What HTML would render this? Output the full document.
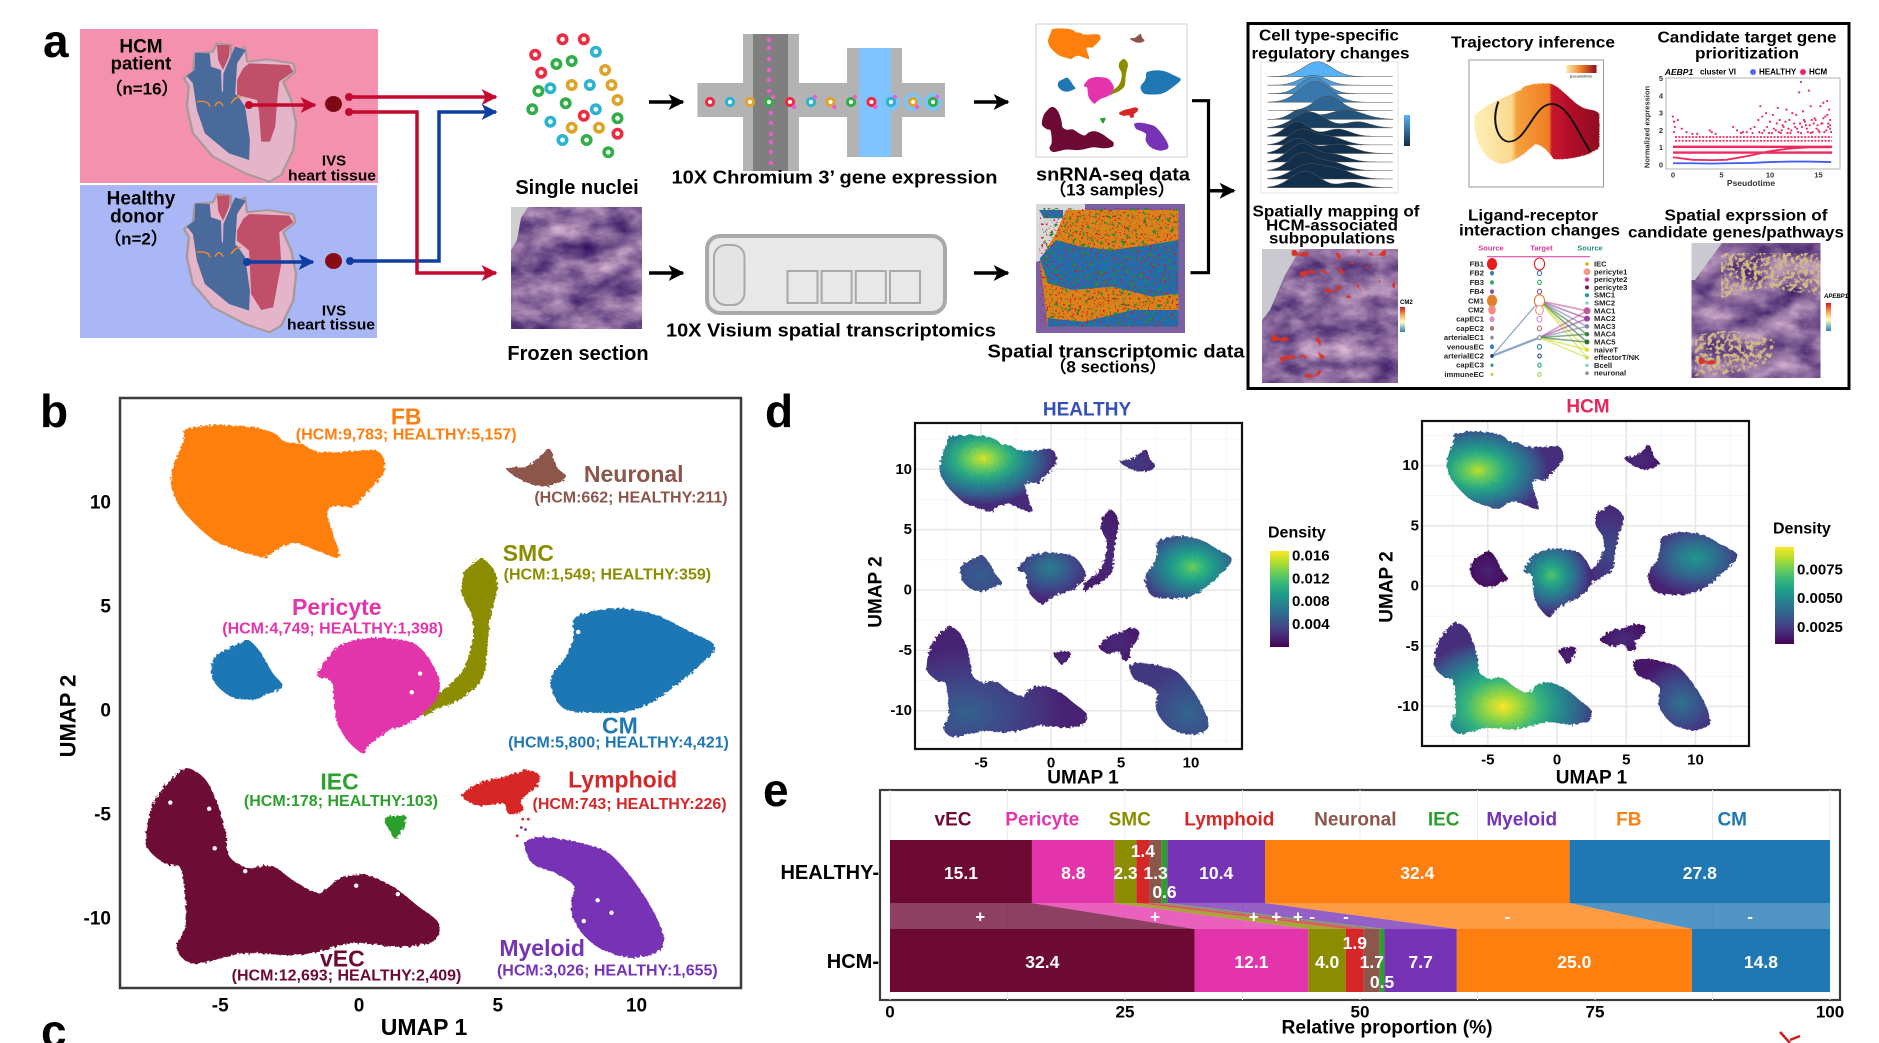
<!DOCTYPE html>
<html lang="en">
<head>
<meta charset="utf-8">
<title>HCM single-nucleus and spatial transcriptomics figure</title>
<style>
html,body{margin:0;padding:0;background:#fff;}
body{width:1879px;height:1043px;overflow:hidden;}
svg{display:block;font-family:"Liberation Sans",sans-serif;}
text{font-weight:bold;dominant-baseline:central;}
</style>
</head>
<body>
<svg id="fig" xmlns="http://www.w3.org/2000/svg" width="1879" height="1043" viewBox="0 0 1879 1043">
<defs>
  <marker id="mBlack" viewBox="0 0 10 10" refX="9" refY="5" markerUnits="userSpaceOnUse" markerWidth="16" markerHeight="17" orient="auto"><path d="M0 0L10 5L0 10L2.5 5z" fill="#000"/></marker>
  <marker id="mRed" viewBox="0 0 10 10" refX="9" refY="5" markerUnits="userSpaceOnUse" markerWidth="18" markerHeight="16" orient="auto"><path d="M0 0L10 5L0 10L2.5 5z" fill="#c4092f"/></marker>
  <marker id="mBlue" viewBox="0 0 10 10" refX="9" refY="5" markerUnits="userSpaceOnUse" markerWidth="18" markerHeight="16" orient="auto"><path d="M0 0L10 5L0 10L2.5 5z" fill="#0f3ea3"/></marker>
  <filter id="rough" x="-20%" y="-20%" width="140%" height="140%"><feTurbulence type="fractalNoise" baseFrequency=".35" numOctaves="2" seed="4"/><feDisplacementMap in="SourceGraphic" scale="5"/></filter>
  <filter id="tissue" x="0" y="0" width="100%" height="100%" color-interpolation-filters="sRGB"><feTurbulence type="fractalNoise" baseFrequency=".03 .05" numOctaves="5" seed="8"/><feColorMatrix values=".8 0 0 0 .13  .78 0 0 0 .01  .55 0 0 0 .33  0 0 0 0 1"/></filter>
  <filter id="speckRed" x="0" y="0" width="100%" height="100%" color-interpolation-filters="sRGB"><feTurbulence type="fractalNoise" baseFrequency=".17" numOctaves="2" seed="3"/><feColorMatrix values="0 0 0 0 .82  0 0 0 0 .1  0 0 0 0 .15  11 0 0 0 -6.8"/></filter>
  <filter id="speckGreen" x="0" y="0" width="100%" height="100%" color-interpolation-filters="sRGB"><feTurbulence type="fractalNoise" baseFrequency=".09" numOctaves="2" seed="12"/><feColorMatrix values="0 0 0 0 .1  0 0 0 0 .58  0 0 0 0 .2  11 0 0 0 -6.9"/></filter>
  <filter id="speckHot" x="0" y="0" width="100%" height="100%" color-interpolation-filters="sRGB"><feTurbulence type="fractalNoise" baseFrequency=".11" numOctaves="1" seed="5"/><feColorMatrix values="0 0 0 0 .85  0 0 0 0 .2  0 0 0 0 .14  14 0 0 0 -9"/></filter>
  <filter id="speckYellow" x="0" y="0" width="100%" height="100%" color-interpolation-filters="sRGB"><feTurbulence type="fractalNoise" baseFrequency=".24" numOctaves="2" seed="9"/><feColorMatrix values="0 0 0 0 .82  0 0 0 0 .72  0 0 0 0 .52  7 0 0 0 -3.2"/></filter>
  <clipPath id="geneTop"><path d="M1721 253H1819L1820 295L1762 288L1721 298Z"/></clipPath>
  <clipPath id="geneBottom"><path d="M1695 335L1730 330L1775 340L1770 362L1730 374L1695 376Z"/></clipPath>
  <linearGradient id="trajGrad" x1="0" x2="1" y1="0" y2="0">
    <stop offset="0" stop-color="#fdf0b8"/><stop offset=".3" stop-color="#fbd98f"/><stop offset=".34" stop-color="#f5a03c"/><stop offset=".6" stop-color="#ee7d25"/><stop offset=".62" stop-color="#c9142c"/><stop offset="1" stop-color="#8e0a22"/>
  </linearGradient>
  <linearGradient id="trajLegend" x1="0" x2="1" y1="0" y2="0"><stop offset="0" stop-color="#fdf0b8"/><stop offset=".5" stop-color="#ee7d25"/><stop offset="1" stop-color="#8e0a22"/></linearGradient>
  <linearGradient id="nesLegend" x1="0" x2="0" y1="0" y2="1"><stop offset="0" stop-color="#56b1f7"/><stop offset="1" stop-color="#132b43"/></linearGradient>
  <linearGradient id="heatLegend" x1="0" x2="0" y1="0" y2="1"><stop offset="0" stop-color="#d7191c"/><stop offset=".35" stop-color="#fdae61"/><stop offset=".6" stop-color="#ffffbf"/><stop offset="1" stop-color="#2b83ba"/></linearGradient>
  <g id="heartBase">
    <path d="M458 235L480 215L485 160L530 155L540 130L575 135L575 165L610 140L615 185L665 178L730 190L735 215L705 245L725 300L737 370L730 450L700 525L670 545L610 520L530 470L480 400L465 320L470 260Z" fill="#e4b4c8" stroke="#a89a9a" stroke-width="6" stroke-linejoin="round"/>
    <path d="M540 135L572 135L570 170L555 210L543 180Z" fill="#c0506a"/>
    <path d="M465 228L484 210L486 158L522 160L525 200L550 210L552 275L590 285L610 320L622 420L620 480L570 460L510 400L490 330L480 250Z" fill="#4a6a9c"/>
    <path d="M556 220L585 140L612 150L590 190L585 290L555 280Z" fill="#4a6a9c"/>
    <path d="M490 305Q520 300 522 320M535 318Q545 295 555 318M575 310Q585 290 600 290M605 262Q625 255 640 262M668 262Q680 255 690 250" fill="none" stroke="#ef8a2a" stroke-width="4"/>
  </g>
</defs>
<rect width="1879" height="1043" fill="#fff"/>

<!-- Panel letters -->
<text x="43" y="41" font-size="46" fill="#000">a</text>
<text x="40" y="411" font-size="46" fill="#000">b</text>
<text x="41" y="1031" font-size="46" fill="#000">c</text>
<text x="765" y="411" font-size="46" fill="#000">d</text>
<text x="763" y="790" font-size="46" fill="#000">e</text>

<!-- Panel a: donors -->
<g>
  <rect x="80" y="29" width="298" height="154" fill="#f491ae"/>
  <rect x="80" y="185" width="297" height="153" fill="#a9b7f7"/>
  <g transform="scale(.4018 .3333)">
    <use href="#heartBase"/>
    <path d="M605 205L620 190L720 195L730 215L695 245L690 300L685 380L672 425L650 425L645 340L640 300L590 285L590 240Z" fill="#c0506a"/>
  </g>
  <g transform="scale(.4018 .3333) translate(0 452)">
    <use href="#heartBase"/>
    <path d="M605 205L620 190L720 195L730 215L695 245L700 340L680 470L650 478L625 430L620 300L590 270L590 240Z" fill="#c0506a"/>
  </g>
  <text x="141" y="47" font-size="19" text-anchor="middle">HCM</text>
  <text x="141" y="63" font-size="18.5" text-anchor="middle">patient</text>
  <text x="142" y="89" font-size="17" text-anchor="middle">（n=16）</text>
  <text x="141" y="199" font-size="19" text-anchor="middle">Healthy</text>
  <text x="137" y="217" font-size="19" text-anchor="middle">donor</text>
  <text x="136" y="239" font-size="17" text-anchor="middle">（n=2）</text>
  <text x="334" y="161" font-size="15" text-anchor="middle">IVS</text>
  <text x="332" y="176" font-size="15" text-anchor="middle" textLength="88" lengthAdjust="spacingAndGlyphs">heart tissue</text>
  <text x="334" y="311" font-size="15" text-anchor="middle">IVS</text>
  <text x="331" y="325" font-size="15" text-anchor="middle" textLength="88" lengthAdjust="spacingAndGlyphs">heart tissue</text>

  <ellipse cx="333.5" cy="104" rx="8.5" ry="8" fill="#7d0a14"/>
  <ellipse cx="333.5" cy="261" rx="8.5" ry="8" fill="#8a0b18"/>
  <circle cx="249" cy="105" r="4" fill="#c4092f"/><path d="M249 105H315" stroke="#c4092f" stroke-width="3.5" marker-end="url(#mRed)"/>
  <circle cx="247" cy="262" r="4" fill="#0f3ea3"/><path d="M247 262H313" stroke="#0f3ea3" stroke-width="3.5" marker-end="url(#mBlue)"/>
  <circle cx="349" cy="97" r="4" fill="#c4092f"/><circle cx="349" cy="112" r="4" fill="#c4092f"/><circle cx="350" cy="261" r="4" fill="#0f3ea3"/>
  <path d="M350 261H439V112H496" fill="none" stroke="#0f3ea3" stroke-width="3.5" marker-end="url(#mBlue)"/>
  <path d="M349 97H496" fill="none" stroke="#c4092f" stroke-width="3.5" marker-end="url(#mRed)"/>
  <path d="M349 112H417V273H496" fill="none" stroke="#c4092f" stroke-width="3.5" marker-end="url(#mRed)"/>

  <g id="nuclei"></g>
  <text x="577" y="188" font-size="20" text-anchor="middle">Single nuclei</text>

  <g>
    <rect x="511" y="207" width="131" height="122" filter="url(#tissue)"/>
    <path d="M511 207H528L521 218L517 240L511 250Z" fill="#cfcfcf"/>
  </g>
  <text x="578" y="354" font-size="20" text-anchor="middle">Frozen section</text>

  <path d="M649 102H683" stroke="#000" stroke-width="3.5" marker-end="url(#mBlack)"/>
  <path d="M974 102H1008" stroke="#000" stroke-width="3.5" marker-end="url(#mBlack)"/>
  <path d="M649 273H683" stroke="#000" stroke-width="3.5" marker-end="url(#mBlack)"/>
  <path d="M974 273H1008" stroke="#000" stroke-width="3.5" marker-end="url(#mBlack)"/>

  <g>
    <rect x="697.5" y="83" width="247.5" height="34" fill="#b3b3b3"/>
    <rect x="743" y="34" width="56" height="137" fill="#b3b3b3"/>
    <rect x="753" y="34" width="35" height="137" fill="#7f7f7f"/>
    <rect x="847" y="48" width="55" height="109" fill="#b3b3b3"/>
    <rect x="859" y="48" width="32" height="109" fill="#80c4ff"/>
    <g id="chipCells"></g>
  </g>
  <text x="834.5" y="177" font-size="18.5" text-anchor="middle" textLength="326" lengthAdjust="spacingAndGlyphs">10X Chromium 3’ gene expression</text>

  <g>
    <rect x="707" y="236" width="238" height="77" rx="13" fill="#e8e8e8" stroke="#a9a9a9" stroke-width="4"/>
    <rect x="714" y="245" width="30.5" height="60" rx="12" fill="#e4e4e4" stroke="#a9a9a9" stroke-width="2"/>
    <rect x="787.5" y="271" width="30" height="32" fill="none" stroke="#a9a9a9" stroke-width="2"/>
    <rect x="821.6" y="271" width="30" height="32" fill="none" stroke="#a9a9a9" stroke-width="2"/>
    <rect x="855.8" y="271" width="30" height="32" fill="none" stroke="#a9a9a9" stroke-width="2"/>
    <rect x="890" y="271" width="30" height="32" fill="none" stroke="#a9a9a9" stroke-width="2"/>
  </g>
  <text x="831" y="330" font-size="18.5" text-anchor="middle" textLength="330" lengthAdjust="spacingAndGlyphs">10X Visium spatial transcriptomics</text>

  <rect x="1036" y="24" width="151" height="133" fill="#fff" stroke="#cfcfcf" stroke-width="1"/>
  <g id="miniUmap"></g>
  <text x="1113" y="174" font-size="18.5" text-anchor="middle" textLength="154" lengthAdjust="spacingAndGlyphs">snRNA-seq data</text>
  <text x="1112" y="190" font-size="17" text-anchor="middle">（13 samples）</text>

  <g>
    <rect x="1036" y="204" width="149" height="129" fill="#7d5fa3"/>
    <path d="M1036 204H1085V216L1066 240L1048 258L1036 262Z" fill="#d9d9dc"/>
    <g transform="translate(630 0) scale(.4018 .3333)">
      <path d="M1085 630H1365V980H1040L1020 780L1060 700Z" fill="#d9841a"/>
      <path d="M1020 775L1060 720L1120 740L1200 750L1290 735L1365 720V880L1300 890L1200 860L1100 870L1040 850ZM1040 955L1130 965L1250 930L1365 930V980H1040Z" fill="#1f6fb0"/>
      <path d="M1018 630H1078V655H1030Z" fill="#1f6fb0"/>
      <rect x="1030" y="625" width="335" height="355" filter="url(#speckGreen)"/>
      <rect x="1020" y="625" width="345" height="355" filter="url(#speckRed)"/>
    </g>
  </g>
  <text x="1116" y="351" font-size="18.5" text-anchor="middle" textLength="257" lengthAdjust="spacingAndGlyphs">Spatial transcriptomic data</text>
  <text x="1108" y="367" font-size="17" text-anchor="middle">（8 sections）</text>

  <path d="M1192 100.7H1208.5V272.7H1190.5" fill="none" stroke="#000" stroke-width="3.2"/>
  <path d="M1208 190.7H1234" stroke="#000" stroke-width="3.5" marker-end="url(#mBlack)"/>
</g>

<!-- Analyses box -->
<g>
  <rect x="1248" y="23.5" width="601" height="365" fill="#fff" stroke="#000" stroke-width="3"/>
  <text x="1329" y="36" font-size="15.5" text-anchor="middle" textLength="140" lengthAdjust="spacingAndGlyphs">Cell type-specific</text>
  <text x="1330.5" y="54" font-size="15.5" text-anchor="middle" textLength="158" lengthAdjust="spacingAndGlyphs">regulatory changes</text>
  <text x="1533" y="43" font-size="15.5" text-anchor="middle" textLength="164" lengthAdjust="spacingAndGlyphs">Trajectory inference</text>
  <text x="1747" y="38" font-size="15.5" text-anchor="middle" textLength="179" lengthAdjust="spacingAndGlyphs">Candidate target gene</text>
  <text x="1747" y="54" font-size="15.5" text-anchor="middle" textLength="104" lengthAdjust="spacingAndGlyphs">prioritization</text>
  <text x="1336" y="212" font-size="15.5" text-anchor="middle" textLength="167" lengthAdjust="spacingAndGlyphs">Spatially mapping of</text>
  <text x="1332" y="226" font-size="15.5" text-anchor="middle" textLength="132" lengthAdjust="spacingAndGlyphs">HCM-associated</text>
  <text x="1332" y="239" font-size="15.5" text-anchor="middle" textLength="126" lengthAdjust="spacingAndGlyphs">subpopulations</text>
  <text x="1533" y="216" font-size="15.5" text-anchor="middle" textLength="130" lengthAdjust="spacingAndGlyphs">Ligand-receptor</text>
  <text x="1539.5" y="231" font-size="15.5" text-anchor="middle" textLength="161" lengthAdjust="spacingAndGlyphs">interaction changes</text>
  <text x="1746" y="216" font-size="15.5" text-anchor="middle" textLength="163" lengthAdjust="spacingAndGlyphs">Spatial exprssion of</text>
  <text x="1736" y="233" font-size="15.5" text-anchor="middle" textLength="216" lengthAdjust="spacingAndGlyphs">candidate genes/pathways</text>

  <rect x="1261" y="62" width="137" height="131" fill="#fff" stroke="#e3e3e3"/>
  <g id="ridges" transform="translate(1240 0) scale(.4075 .3333)"></g>
  <rect x="1404" y="115" width="6" height="31" fill="url(#nesLegend)"/>

  <rect x="1469" y="60" width="134.5" height="127" fill="#fff" stroke="#999"/>
  <g transform="translate(1240 0) scale(.4075 .3333)">
    <path d="M575 350C590 320 650 290 690 270C695 255 720 250 760 250C790 260 810 305 845 325C860 330 880 330 882 345V440C870 460 830 478 770 478C755 450 740 435 725 432C690 470 660 495 640 492C600 480 570 420 575 350Z" fill="url(#trajGrad)" filter="url(#rough)"/>
    <path d="M634 305C615 370 635 425 660 425C705 425 720 312 765 312C805 312 830 400 860 455" fill="none" stroke="#111" stroke-width="5"/>
  </g>
  <rect x="1566" y="65" width="30.5" height="8" fill="url(#trajLegend)"/>
  <text x="1581" y="76" font-size="4" text-anchor="middle" fill="#555">pseudotime</text>

  <text x="1679" y="72" font-size="8.5" font-style="italic" text-anchor="middle">AEBP1</text>
  <text x="1718" y="72" font-size="8" text-anchor="middle">cluster VI</text>
  <circle cx="1753" cy="72" r="3" fill="#5468f0"/>
  <text x="1759" y="72" font-size="8">HEALTHY</text>
  <circle cx="1803" cy="72" r="3" fill="#ee2a5f"/>
  <text x="1809" y="72" font-size="8">HCM</text>
  <g id="candidate"></g>

  <g>
    <rect x="1262" y="249" width="136" height="134" filter="url(#tissue)"/>
    <path d="M1262 249H1300L1285 275L1270 310L1262 320Z" fill="#c9c9cf"/>
    <svg x="1290" y="250" width="105" height="48"><rect width="105" height="48" filter="url(#speckHot)"/></svg>
    <svg x="1270" y="335" width="56" height="46"><rect width="56" height="46" filter="url(#speckHot)"/></svg>
  </g>
  <rect x="1400" y="307" width="5" height="25" fill="url(#heatLegend)"/>
  <text x="1400" y="303" font-size="6">CM2</text>

  <g id="network"></g>

  <g>
    <rect x="1691.5" y="243" width="129" height="135" filter="url(#tissue)"/>
    <path d="M1691.5 243H1722L1708 262L1695 280H1691.5Z" fill="#c9c9cf"/>
    <g clip-path="url(#geneTop)"><rect x="1705" y="250" width="116" height="52" filter="url(#speckYellow)"/></g>
    <g clip-path="url(#geneBottom)"><rect x="1693" y="328" width="84" height="50" filter="url(#speckYellow)"/></g>
    <svg x="1697" y="358" width="26" height="18"><rect width="26" height="18" filter="url(#speckHot)"/></svg>
  </g>
  <rect x="1826" y="303" width="5" height="28" fill="url(#heatLegend)"/>
  <text x="1824" y="297" font-size="6" font-style="italic">APEBP1</text>
</g>

<g id="panelB"></g>
<g id="panelD"></g>
<g id="panelE"></g>
<path d="M1780 1032L1790 1043M1790 1040L1800 1036" stroke="#d01c1c" stroke-width="2.5" fill="none"/>
</svg>

<script>
// ---------- Cluster outlines, in UMAP units ----------
const clusterNames=['FB','Neuronal','SMC','CM-satellite','Pericyte','CM','Lymphoid','IEC','Myeloid','vEC'];
const fbX=[-6.2,-5.24,-3.84,-3.05,-2.71,-2.09,-1.57,-.7,.52,.87,.87,.52,.09,-.26,-.87,-1.19,-1.05,-.75,-1.4,-2.27,-2.88,-3.4,-4.19,-5.15,-6.02,-6.54,-6.75,-6.54,-6.28];
const fbY=[13.5,13.7,13.6,13.3,12.9,12.8,12.44,12.4,12.5,12.1,11.5,10.9,10.3,9.84,9.9,9.6,8.8,7.44,7.7,8.1,7.9,7.44,7.7,8.2,9.2,10.1,11.1,12.2,13];
const neuronalX=[5.38,6.02,6.54,6.86,6.98,7.16,7.42,7.16,6.63,6.11,5.67];
const neuronalY=[11.64,11.7,12.2,12.54,12.1,11.6,11.3,11,10.84,11,11.3];
const smcX=[4.36,4.62,4.89,4.94,4.75,4.62,4.49,4.1,3.49,2.62,2.36,2.44,2.97,3.58,3.93,4.15,4.1,3.75,3.8,4.1];
const smcY=[7.3,7.1,6.6,5.8,4.8,3.6,1.8,1.1,.5,.04,-.2,.4,.9,1.6,2.4,3.6,4.6,5.6,6.6,7];
const cmSmallX=[-4.36,-3.98,-3.58,-3.14,-2.79,-3.23,-3.84,-4.54,-5.06,-5.29,-5.15];
const cmSmallY=[3.16,3.34,2.8,1.8,1.2,.9,.6,.7,1.2,1.8,2.6];
const pericyteX=[-.7,.17,1.05,1.92,2.44,2.88,2.7,2,1.05,.35,.09,-.44,-.79,-.96,-1.45,-1.13];
const pericyteY=[3.1,3.46,3.44,3.24,2.6,1.4,.5,-.4,-.9,-1.6,-1.96,-1.3,-.4,1.4,1.7,2.5];
const cmX=[7.85,9.25,10.65,11.87,12.74,12.57,11.52,10.47,9.42,7.5,6.95,7.07,7.5,7.77];
const cmY=[4.5,4.9,4.6,3.8,3.2,2.6,1.4,.4,0,.1,1.16,1.9,2.6,3.6];
const lymphoidX=[3.75,4.36,5.24,6.02,6.46,6.37,5.85,5.85,5.41,5.24,4.36];
const lymphoidY=[-4.1,-3.5,-3.2,-2.9,-3.1,-3.6,-4.2,-4.8,-4.9,-4.4,-4.5];
const iecX=[.96,1.66,1.48,1.31,1.13];
const iecY=[-5.2,-5.1,-5.8,-6.1,-5.7];
const myeloidX=[6.02,6.63,7.68,8.9,9.77,10.56,10.96,10.65,9.77,8.73,8.03,7.68,7.77,7.16,6.28,6.02];
const myeloidY=[-6.3,-6.1,-6.3,-6.8,-8,-9.6,-11,-11.6,-11.8,-11.4,-10.6,-9.6,-8.4,-7.8,-7.3,-6.6];
const vecX=[-6.2,-5.58,-5.15,-4.85,-4.71,-4.01,-3.14,-2.27,-1.4,-.7,.17,1.22,2.09,2.83,2.7,1.57,-.17,-1.4,-2.44,-4.19,-5.93,-6.54,-6.2,-6.37,-6.98,-7.64,-7.42,-6.81];
const vecY=[-2.8,-3.3,-4.4,-5.8,-7,-7.6,-7.5,-8.3,-8.8,-8.1,-7.9,-8.5,-9.4,-10.2,-11,-11.3,-11.1,-11.5,-11.7,-11.6,-12.1,-11.4,-10.2,-7.6,-7.3,-6.4,-4.6,-3.4];
const clusterXs=[fbX,neuronalX,smcX,cmSmallX,pericyteX,cmX,lymphoidX,iecX,myeloidX,vecX];
const clusterYs=[fbY,neuronalY,smcY,cmSmallY,pericyteY,cmY,lymphoidY,iecY,myeloidY,vecY];
const clusterColors=['#ff7f0e','#8c564b','#8c8c00','#1f77b4','#e334ab','#1f77b4','#d62728','#2ca02c','#7733b5','#6d0a34'];
const holeX=[-6.8,-5.4,-5.2,-.1,1.4,8.1,9.1,8.6,2.2,1.9,7.9,-4.1];
const holeY=[-4.4,-4.7,-6.6,-8.4,-8.8,-10.1,-9.7,-9.1,1.8,.9,3.8,-7.7];
const strayX=[5.9,5.85,6.1,6,5.7];
const strayY=[-5.2,-5.6,-5.2,-5.7,-6];

const umapTicksX=[-5,0,5,10];
const umapTicksY=[-10,-5,0,5,10];

// ---------- Panel b labels ----------
const bLabelNames=['FB','Neuronal','SMC','Pericyte','CM','IEC','Lymphoid','vEC','Myeloid'];
const bLabelCounts=['(HCM:9,783; HEALTHY:5,157)','(HCM:662; HEALTHY:211)','(HCM:1,549; HEALTHY:359)','(HCM:4,749; HEALTHY:1,398)','(HCM:5,800; HEALTHY:4,421)','(HCM:178; HEALTHY:103)','(HCM:743; HEALTHY:226)','(HCM:12,693; HEALTHY:2,409)','(HCM:3,026; HEALTHY:1,655)'];
const bLabelUmapX=[1.7,9.9,6.1,-.8,9.4,-.7,9.5,-.6,6.6];
const bLabelUmapY=[14.15,11.4,7.6,5,-.7,-3.4,-3.3,-11.9,-11.4];
const bCountUmapX=[1.7,9.8,8.95,-.95,9.35,-.65,9.75,-.45,8.95];
const bCountUmapY=[13.27,10.25,6.55,3.95,-1.55,-4.35,-4.5,-12.75,-12.5];

// ---------- Panel d densities ----------
const healthyXLo=[-7.9,5,2.4,-6.4,-2.3,6.8,3.5,.25,5.7,-8.8];
const healthyXHi=[.3,7.4,4.75,-3.6,2.4,12.8,6.2,1.3,11.2,2.45];
const healthyYLo=[6.57,9.86,0,0,-1.1,-.6,-5.7,-6.1,-11.9,-12.1];
const healthyYHi=[12.76,11.6,6.57,2.8,3,4.4,-3.2,-5.2,-6.1,-3.1];
const healthyPeakX=[-4.85,6,4,-5,-.1,10.1,4.8,.8,9.8,-6];
const healthyPeakY=[10.9,10.5,3,1.2,1.8,1.9,-4.3,-5.6,-10.2,-10.2];
const healthyPeak=[.016,.003,.002,.005,.0072,.0132,.002,.002,.0055,.0052];
const healthyEdge=[.002,.002,.0012,.0038,.0018,.0032,.0012,.0012,.0028,.0016];
const healthyLegendTicks=[.004,.008,.012,.016];
const hcmXLo=[-7.9,4.95,.7,-6.2,-2.3,6.65,3.2,.2,5.57,-8.8];
const hcmXHi=[.36,7.3,4.7,-3.66,2.5,12.9,6.3,1.3,11,2.4];
const hcmYLo=[6.45,9.76,-.3,0,-2.5,-.6,-5.3,-6.4,-11.9,-12.2];
const hcmYHi=[12.75,11.6,6.6,2.8,3,4.4,-3.2,-5.2,-6.1,-3.1];
const hcmPeakX=[-5.7,6,3.8,-5,-.4,10,4.8,.8,9,-3.9];
const hcmPeakY=[9.6,10.5,3,1.3,.9,2.3,-4.3,-5.8,-9.7,-10];
const hcmPeak=[.0086,.0021,.003,.0019,.0072,.0056,.0021,.002,.0042,.0095];
const hcmEdge=[.0022,.0016,.0018,.0012,.0018,.0018,.0014,.0014,.0016,.0022];
const hcmLegendTicks=[.0025,.005,.0075];
const viridisStops=['#440154','#482878','#3e4989','#31688e','#26828e','#1f9e89','#35b779','#6ece58','#b5de2b','#fde725'];

// ---------- Panel e proportions ----------
const stackNames=['vEC','Pericyte','SMC','Lymphoid','Neuronal','IEC','Myeloid','FB','CM'];
const healthyShare=[15.1,8.8,2.3,1.4,1.3,0.6,10.4,32.4,27.8];
const hcmShare=[32.4,12.1,4.0,1.9,1.7,0.5,7.7,25.0,14.8];
const changeSigns=['+','+','+','+','+','-','-','-','-'];
const changeLabelPct=[9.6,28.2,38.7,41.1,43.4,44.9,48.5,65.7,91.5];
const topLabelPct=[6.7,16.2,25.5,36.1,49.5,58.9,67.2,78.6,89.6];
const proportionTicks=[0,25,50,75,100];
const stackColors=['#6d0a34','#e334ab','#8c8c00','#d62728','#8c564b','#2ca02c','#7733b5','#ff7f0e','#1f77b4'];

// ---------- Candidate gene mini chart ----------
const candTime=[0,.1,.2,.1,.5,.9,1.4,2,2.5,3.8,4,4.4,6.2,6.6,7.2,8,8.4,8.8,9,9.2,9.6,10,10.3,10.8,11,11.3,11.7,12,12.3,12.6,13,13.2,13.4,13.6,14,14.2,14.6,14.9,15.2,15.5,15.9,16.1,16.2,16,15.8,15.4,14.8,14.3,13.8,13.1,12.7,11.9,11.2,10.6,7,7.6,8.2,8.9,9.4,9.9,10.4,10.9,11.4,11.8,12.2,12.5,12.9,13.3,13.5,13.9,14.1,14.4,14.7,15,15.3,15.6,15.7,16,16.2,16.3,11.1,11.6,12.1,12.8,13.2,13.7,14.2,14.5,15.1,15.5,15.9,16.2,9.2,9.7,10.2,10.7];
const candExpr=[2.8,2.5,2.2,1.9,2.6,2.1,1.9,1.8,1.8,2,1.9,1.8,2.2,2,1.9,2.1,2.2,2.6,3.4,2.8,3,2.5,2.9,3.3,2.6,2.3,3.2,2.6,3,2.2,4.2,4.8,3.1,2.5,4.3,3.4,2.7,2.3,3.4,3.6,3.7,3.2,2.6,2.2,2,2.4,2.1,2.6,2.1,2.4,2.9,2.1,2,2,1.85,1.9,1.85,1.9,2,1.85,2.1,1.9,2.2,1.85,2,2.4,1.9,2.2,2.6,1.9,2.3,1.9,2.6,2,2.4,1.9,2.8,2.4,2.1,1.9,1.85,2.5,1.85,2.1,1.85,2.3,1.85,2.4,1.9,2.7,2.9,2.3,1.85,2.2,1.85,2.4];
const candRows=[.72,1.05,1.4,1.62];
const trendTime=[0,2,4,5.5,8,10,12,14,16.3];
const trendHcm=[.45,.3,.28,.3,.55,.8,.95,1.02,1.02];
const trendHealthy=[.1,.1,.08,.1,.12,.17,.2,.2,.17];
const candTicksX=[0,5,10,15];
const candTicksY=[0,1,2,3,4,5];

// ---------- Network and ridges ----------
const sourceLabels=['FB1','FB2','FB3','FB4','CM1','CM2','capEC1','capEC2','arterialEC1','venousEC','arterialEC2','capEC3','immuneEC'];
const sourceSizes=[6,2.4,2.2,2.4,6,4.5,3,2.4,2,2.4,2,1.8,1.6];
const sourceColors=['#e81c1c','#3a7bbd','#33a853','#8a4fa6','#e08028','#f58a80','#df8ed0','#b86a6a','#8a8a8a','#2d80c0','#17407e','#2aa37c','#a5d84e'];
const targetLabels=['IEC','pericyte1','pericyte2','pericyte3','SMC1','SMC2','MAC1','MAC2','MAC3','MAC4','MAC5','naiveT','effectorT/NK','Bcell','neuronal'];
const targetSizes=[1.8,3.5,2.2,2,2,1.8,3.5,3,2.2,2.2,2.5,2,2,1.6,1.8];
const targetColors=['#d6b40d','#f79a90','#e0349a','#8c0a4a','#159a9c','#7fd4e0','#c0569c','#9d3ea4','#7f7fae','#3f7f3f','#2f6f2f','#d7df20','#c8df50','#6fd0c0','#8f8f8f'];
const edgeFrom=[4,4,4,4,4,4,4,8,8,8,8,8,8,8];
const edgeTo=[6,7,8,9,10,11,12,6,7,8,9,10,11,12];
const ridgeCentersA=[190,180,180,185,215,150,170,140,150,140,150,150,165,160];
const ridgeHeightsA=[45,30,50,62,45,30,48,45,45,45,55,50,42,50];
const ridgeWidthsA=[35,32,32,38,32,25,38,28,30,30,32,30,38,35];
const ridgeCentersB=[0,0,0,0,0,260,290,240,220,240,230,220,240,275];
const ridgeHeightsB=[0,0,0,0,0,28,18,22,24,28,22,26,26,16];
const ridgeWidthsB=[1,1,1,1,1,42,30,30,34,38,34,36,38,28];
const nucleiRedX=[1400,1453,1332,1347,1453,1537];const nucleiRedY=[118,118,164,218,347,401];
const nucleiCyanX=[1483,1370,1468,1483,1370,1400];const nucleiCyanY=[155,265,255,328,365,420];
const nucleiGreenX=[1385,1423,1340,1408,1325,1537,1460,1514];const nucleiGreenY=[192,183,273,310,328,355,420,457];
const nucleiOrangeX=[1506,1423,1522,1537,1423,1491];const nucleiOrangeY=[210,255,255,300,383,383];
const chipCellX=[710,730,750,769,790,811,830.5,851,871.5,891,913,933];
const chipDropletY=[40,48,59,70,80,91,113,123,134,142,152,163];

// ---------- Helpers ----------
const NS='http://www.w3.org/2000/svg';
function mk(parent,tag,attrs){
  const el=document.createElementNS(NS,tag);
  for(const k in attrs)el.setAttribute(k,attrs[k]);
  parent.appendChild(el);
  return el;
}
function label(parent,x,y,s,size,fill,anchor,rot){
  const el=mk(parent,'text',{x:0,y:0,'font-size':size,fill:fill||'#000','text-anchor':anchor||'middle',transform:'translate('+x+' '+y+')'+(rot?' rotate('+rot+')':'')});
  el.textContent=s;
  return el;
}
function smoothPath(xs,ys,sx,sy){
  const pts=xs.map(function(v,i){return [sx(v),sy(ys[i])];});
  const n=pts.length,k=1/7;
  let d='M'+pts[0][0].toFixed(1)+' '+pts[0][1].toFixed(1);
  for(let i=0;i<n;i++){
    const p0=pts[(i-1+n)%n],p1=pts[i],p2=pts[(i+1)%n],p3=pts[(i+2)%n];
    d+='C'+(p1[0]+(p2[0]-p0[0])*k).toFixed(1)+' '+(p1[1]+(p2[1]-p0[1])*k).toFixed(1)+' '+(p2[0]-(p3[0]-p1[0])*k).toFixed(1)+' '+(p2[1]-(p3[1]-p1[1])*k).toFixed(1)+' '+p2[0].toFixed(1)+' '+p2[1].toFixed(1);
  }
  return d+'Z';
}
function hexToRgb(h){return [parseInt(h.slice(1,3),16),parseInt(h.slice(3,5),16),parseInt(h.slice(5,7),16)];}
function viridis(t){
  t=Math.max(0,Math.min(1,t));
  const p=t*(viridisStops.length-1),i=Math.min(Math.floor(p),viridisStops.length-2),f=p-i;
  const a=hexToRgb(viridisStops[i]),b=hexToRgb(viridisStops[i+1]);
  return 'rgb('+a.map(function(v,k){return Math.round(v+(b[k]-v)*f);}).join(',')+')';
}

// ---------- Nuclei and chip ----------
(function(){
  const g=document.getElementById('nuclei');
  function draw(xs,ys,c){
    xs.forEach(function(x,i){
      const dot=mk(g,'circle',{cx:(x/2.489).toFixed(1),cy:(ys[i]/3).toFixed(1),r:4.2,fill:'#f4fff4',stroke:c,'stroke-width':3.6});
      
      
    });
  }
  draw(nucleiRedX,nucleiRedY,'#ee2b45');
  draw(nucleiCyanX,nucleiCyanY,'#2db2cf');
  draw(nucleiGreenX,nucleiGreenY,'#33ad4a');
  draw(nucleiOrangeX,nucleiOrangeY,'#dda32a');
  const chip=document.getElementById('chipCells');
  const chipColors=['#ee2b45','#2db2cf','#dda32a','#33ad4a'];
  chipDropletY.forEach(function(y,i){
    const d=mk(chip,'circle',{cx:i<6?769:771,cy:y,r:2.2,fill:'#f15bd0'});
    
    
  });
  chipCellX.forEach(function(x,i){
    if(i>=9){
      const halo=mk(chip,'circle',{cx:x,cy:102,r:9,fill:'#7cc4f5'});
      
      
    }
    const c=mk(chip,'circle',{cx:x,cy:102,r:3.6,fill:'#f4fff4',stroke:chipColors[i%4],'stroke-width':3});
    
    
    if(i>=3){
      const b=mk(chip,'circle',{cx:x+4,cy:102+(i%2?-5:5),r:2.2,fill:'#f15bd0'});
      
      
    }
  });
})();

// ---------- Mini UMAP ----------
(function(){
  const g=document.getElementById('miniUmap');
  const sx=function(v){return 1094+v*6.76;},sy=function(v){return 94-v*4.76;};
  clusterXs.forEach(function(xs,i){
    const p=mk(g,'path',{d:smoothPath(xs,clusterYs[i],sx,sy),fill:clusterColors[i],stroke:clusterColors[i],'stroke-width':.8,'stroke-linejoin':'round'});
    
    
  });
})();

// ---------- Panel b ----------
(function(){
  const g=document.getElementById('panelB');
  const sx=function(v){return 359+v*27.75;},sy=function(v){return 711-v*20.8;};
  const frame=mk(g,'rect',{x:120,y:398,width:621,height:590,fill:'#fff',stroke:'#3c3c3c','stroke-width':2.5});
  
  
  clusterXs.forEach(function(xs,i){
    const p=mk(g,'path',{d:smoothPath(xs,clusterYs[i],sx,sy),fill:clusterColors[i],stroke:clusterColors[i],'stroke-width':2,'stroke-linejoin':'round',filter:'url(#rough)'});
    
    
  });
  holeX.forEach(function(x,i){
    const h=mk(g,'circle',{cx:sx(x),cy:sy(holeY[i]),r:2.2,fill:'#fff'});
    
    
  });
  strayX.forEach(function(x,i){
    const s=mk(g,'circle',{cx:sx(x),cy:sy(strayY[i]),r:1.4,fill:i%2?'#7733b5':'#d62728'});
    
    
  });
  umapTicksX.forEach(function(v){
    const t=label(g,sx(v),1006,String(v),19,'#000');
    
    
  });
  umapTicksY.forEach(function(v){
    const t=label(g,111,sy(v),String(v),19,'#000','end');
    
    
  });
  const xt=label(g,424,1027,'UMAP 1',23,'#000');
  
  
  const yt=label(g,68,716,'UMAP 2',22,'#000','middle',-90);
  
  
  const colorOf={FB:'#ff7f0e',Neuronal:'#8c564b',SMC:'#8c8c00',Pericyte:'#e334ab',CM:'#1f77b4',IEC:'#2ca02c',Lymphoid:'#d62728',vEC:'#6d0a34',Myeloid:'#7733b5'};
  bLabelNames.forEach(function(n,i){
    const a=label(g,sx(bLabelUmapX[i]),sy(bLabelUmapY[i]),n,23,colorOf[n]);
    
    
    const b=label(g,sx(bCountUmapX[i]),sy(bCountUmapY[i]),bLabelCounts[i],16,colorOf[n]);
    
    
  });
})();

// ---------- Panel d ----------
function drawDensity(o){
  const g=mk(document.getElementById('panelD'),'g',{});
  
  
  const frame=mk(g,'rect',{x:o.box[0],y:o.box[1],width:o.box[2],height:o.box[3],fill:'#fff'});
  
  
  const defs=document.querySelector('svg defs');
  const sx=function(v){return o.x0+v*o.xs;},sy=function(v){return o.y0-v*o.ys;};
  [-7.5,-5,-2.5,0,2.5,5,7.5,10,12.5].forEach(function(v){
    const l=mk(g,'line',{x1:sx(v),x2:sx(v),y1:o.box[1],y2:o.box[1]+o.box[3],stroke:v%5===0?'#e6e6e6':'#f3f3f3','stroke-width':v%5===0?1.5:.8});
    
    
  });
  [-12.5,-10,-7.5,-5,-2.5,0,2.5,5,7.5,10,12.5].forEach(function(v){
    const l=mk(g,'line',{y1:sy(v),y2:sy(v),x1:o.box[0],x2:o.box[0]+o.box[2],stroke:v%5===0?'#e6e6e6':'#f3f3f3','stroke-width':v%5===0?1.5:.8});
    
    
  });
  const col=function(d){return viridis((d-o.min)/(o.max-o.min));};
  clusterXs.forEach(function(xs,i){
    const ys=clusterYs[i];
    const minX=Math.min.apply(null,xs),maxX=Math.max.apply(null,xs),minY=Math.min.apply(null,ys),maxY=Math.max.apply(null,ys);
    const fx=xs.map(function(v){return o.xLo[i]+(v-minX)/(maxX-minX)*(o.xHi[i]-o.xLo[i]);});
    const fy=ys.map(function(v){return o.yLo[i]+(v-minY)/(maxY-minY)*(o.yHi[i]-o.yLo[i]);});
    const id='dens'+o.key+i;
    const rx=Math.abs(o.xHi[i]-o.xLo[i])*o.xs*.62,ry=Math.abs(o.yHi[i]-o.yLo[i])*o.ys*.62;
    const grad=mk(defs,'radialGradient',{id:id,gradientUnits:'userSpaceOnUse',cx:0,cy:0,r:1,gradientTransform:'translate('+sx(o.px[i])+' '+sy(o.py[i])+') scale('+rx+' '+ry+')'});
    [0,.2,.4,.6,.8,1].forEach(function(s){
      mk(grad,'stop',{offset:s,'stop-color':col(o.peak[i]+(o.edge[i]-o.peak[i])*s)});
    });
    const p=mk(g,'path',{d:smoothPath(fx,fy,sx,sy),fill:'url(#'+id+')',stroke:'url(#'+id+')','stroke-width':2,'stroke-linejoin':'round',filter:'url(#rough)'});
    
    
  });
  const border=mk(g,'rect',{x:o.box[0],y:o.box[1],width:o.box[2],height:o.box[3],fill:'none',stroke:'#111','stroke-width':2.2});
  
  
  umapTicksX.forEach(function(v){
    const t=label(g,sx(v),o.box[1]+o.box[3]+14,String(v),15);
    
    
  });
  umapTicksY.forEach(function(v){
    const t=label(g,o.box[0]-3,sy(v),String(v),15,'#000','end');
    
    
  });
  const title=label(g,o.titleX,o.titleY,o.title,19,o.titleColor);
  
  
  const xa=label(g,o.xLabelX,778,'UMAP 1',19);
  
  
  const ya=label(g,o.yLabelX,o.yLabelY,'UMAP 2',19,'#000','middle',-90);
  
  
  const lid='legend'+o.key;
  const lg=mk(defs,'linearGradient',{id:lid,x1:0,x2:0,y1:1,y2:0});
  viridisStops.forEach(function(c,i){mk(lg,'stop',{offset:i/(viridisStops.length-1),'stop-color':c});});
  const bar=mk(g,'rect',{x:o.bar[0],y:o.bar[1],width:o.bar[2],height:o.bar[3],fill:'url(#'+lid+')'});
  
  
  const ly=function(v){return o.bar[1]+o.bar[3]-(v-o.min)/(o.max-o.min)*o.bar[3];};
  o.ticks.forEach(function(v){
    const t=label(g,o.bar[0]+o.bar[2]+3,ly(v),v.toFixed(o.digits),15,'#000','start');
    
    
  });
  const dt=label(g,o.bar[0]-2,o.bar[1]-18,'Density',16,'#000','start');
  
  
}
drawDensity({key:'healthy',box:[915,423,327,326],x0:1051,xs:14,y0:590,ys:12.07,xLo:healthyXLo,xHi:healthyXHi,yLo:healthyYLo,yHi:healthyYHi,px:healthyPeakX,py:healthyPeakY,peak:healthyPeak,edge:healthyEdge,min:0,max:.0169,bar:[1270,551,19,96],ticks:healthyLegendTicks,digits:3,title:'HEALTHY',titleColor:'#3450b4',titleX:1087,titleY:410,xLabelX:1083,yLabelX:876,yLabelY:592});
drawDensity({key:'hcm',box:[1422,421,327,325],x0:1557,xs:13.85,y0:586,ys:12.05,xLo:hcmXLo,xHi:hcmXHi,yLo:hcmYLo,yHi:hcmYHi,px:hcmPeakX,py:hcmPeakY,peak:hcmPeak,edge:hcmEdge,min:.00105,max:.0095,bar:[1775,547,19,97],ticks:hcmLegendTicks,digits:4,title:'HCM',titleColor:'#e8265e',titleX:1588,titleY:407,xLabelX:1591.5,yLabelX:1387,yLabelY:587});

// ---------- Panel e ----------
(function(){
  const g=document.getElementById('panelE');
  const sx=function(v){return 890+Math.min(v,100)*9.4;};
  const frame=mk(g,'rect',{x:880,y:790,width:960,height:210,fill:'#fff',stroke:'#3c3c3c','stroke-width':2.2});
  
  
  [0,12.5,25,37.5,50,62.5,75,87.5,100].forEach(function(v){
    const l=mk(g,'line',{x1:sx(v),x2:sx(v),y1:790,y2:1000,stroke:'#ececec','stroke-width':1});
    
    
  });
  function cum(a){let s=0;return a.map(function(v){const r=[s,s+v];s+=v;return r;});}
  const h=cum(healthyShare),c=cum(hcmShare);
  stackNames.forEach(function(n,i){
    const band=mk(g,'polygon',{points:[sx(h[i][0])+',903',sx(h[i][1])+',903',sx(c[i][1])+',929',sx(c[i][0])+',929'].join(' '),fill:stackColors[i],opacity:.78});
    
    
    const a=mk(g,'rect',{x:sx(h[i][0]),y:840,width:sx(h[i][1])-sx(h[i][0]),height:63,fill:stackColors[i]});
    
    
    const b=mk(g,'rect',{x:sx(c[i][0]),y:929,width:sx(c[i][1])-sx(c[i][0]),height:63,fill:stackColors[i]});
    
    
  });
  stackNames.forEach(function(n,i){
    const up=n==='Lymphoid',down=n==='IEC';
    const ha=label(g,(sx(h[i][0])+sx(h[i][1]))/2,873+(up?-22:down?19:0),healthyShare[i].toFixed(1),17.5,'#fff');
    
    
    const hb=label(g,(sx(c[i][0])+sx(c[i][1]))/2,962+(up?-19:down?20:0),hcmShare[i].toFixed(1),17.5,'#fff');
    
    
    const sg=label(g,sx(changeLabelPct[i]),917,changeSigns[i],17,'#fff');
    
    
    const tp=label(g,sx(topLabelPct[i]),820,n,19,stackColors[i]);
    
    
  });
  proportionTicks.forEach(function(v){
    const t=label(g,sx(v),1012,String(v),17);
    
    
  });
  const a1=label(g,879,873,'HEALTHY-',20,'#000','end');
  
  
  const a2=label(g,879,962,'HCM-',20,'#000','end');
  
  
  const xt=label(g,1387,1028,'Relative proportion (%)',19.2);
  
  
})();

// ---------- Ridgeline ----------
(function(){
  const g=document.getElementById('ridges');
  ridgeCentersA.forEach(function(c,i){
    const base=230+25.6*i;
    let d='M68 '+base;
    for(let x=68;x<=375;x+=6){
      const a=(x-c)/ridgeWidthsA[i],b=(x-ridgeCentersB[i])/ridgeWidthsB[i];
      const y=ridgeHeightsA[i]*Math.exp(-a*a/2)+ridgeHeightsB[i]*Math.exp(-b*b/2);
      d+='L'+x+' '+(base-y).toFixed(1);
    }
    d+='L375 '+base+'Z';
    const t=i/13,ca=hexToRgb('#56b1f7'),cb=hexToRgb('#12304c');
    const e=Math.min(1,t*1.9);
    const col='rgb('+ca.map(function(v,k){return Math.round(v+(cb[k]-v)*e);}).join(',')+')';
    const p=mk(g,'path',{d:d,fill:col,stroke:'#555','stroke-width':1.5});
    
    
  });
})();

// ---------- Candidate scatter ----------
(function(){
  const g=document.getElementById('candidate');
  const sx=function(v){return 1673+v*9.7;},sy=function(v){return 165-v*17.3;};
  const f=mk(g,'rect',{x:1666,y:78,width:174,height:91,fill:'#fff',stroke:'#bdbdbd','stroke-width':1.2});
  
  
  candRows.forEach(function(v,i){
    const l=mk(g,'line',{x1:sx(i>1?.2:0),x2:sx(16.4),y1:sy(v),y2:sy(v),stroke:'#ee2a5f','stroke-width':i<2?2.4:1.7,'stroke-dasharray':i<2?'none':'2 1.4'});
    
    
  });
  candTime.forEach(function(t,i){
    const c=mk(g,'circle',{cx:sx(t),cy:sy(candExpr[i]),r:1.1,fill:'#ee2a5f'});
    
    
  });
  function line(vals,color){
    const p=mk(g,'polyline',{points:trendTime.map(function(t,i){return sx(t)+','+sy(vals[i]);}).join(' '),fill:'none',stroke:color,'stroke-width':1.8});
    return p;
  }
  const l1=line(trendHcm,'#ee2a5f');
  
  
  const l2=line(trendHealthy,'#3f5ff0');
  
  
  candTicksX.forEach(function(v){
    const t=label(g,sx(v),175,String(v),7.5,'#333');
    
    
  });
  candTicksY.forEach(function(v){
    const t=label(g,1663,sy(v),String(v),7.5,'#333','end');
    
    
  });
  const xt=label(g,1751,183,'Pseudotime',8.5,'#333');
  
  
  const yt=label(g,1647,127,'Normalized expression',7.5,'#333','middle',-90);
  
  
})();

// ---------- Ligand-receptor network ----------
(function(){
  const g=document.getElementById('network');
  const ly=function(i){return 264+i*9.2;},ry=function(i){return 264+i*7.8;};
  const h1=label(g,1491,248,'Source',7.5,'#d6379a');
  
  
  const h2=label(g,1541.5,248,'Target',7.5,'#d6379a');
  
  
  const h3=label(g,1590,248,'Source',7.5,'#2d8a80');
  
  
  const bar=mk(g,'path',{d:'M1487 256.7H1590',stroke:'#d6379a','stroke-width':1,fill:'none'});
  
  
  edgeFrom.forEach(function(s,i){
    const e=mk(g,'line',{x1:1539.5,y1:ly(s),x2:1587,y2:ry(edgeTo[i]),stroke:targetColors[edgeTo[i]],'stroke-width':1.6,opacity:.6});
    
    
  });
  [4,8].forEach(function(t){
    const e=mk(g,'line',{x1:1492,y1:ly(10),x2:1539.5,y2:ly(t),stroke:'#6d8fb5','stroke-width':t===8?2.2:1.2,opacity:.8});
    
    
  });
  sourceLabels.forEach(function(n,i){
    const t=label(g,1484,ly(i),n,7.6,'#222','end');
    
    
    const c=mk(g,'ellipse',{cx:1492,cy:ly(i),rx:sourceSizes[i]*.85,ry:sourceSizes[i],fill:sourceColors[i]});
    
    
    const r=mk(g,'ellipse',{cx:1539.5,cy:ly(i),rx:Math.max(sourceSizes[i]*.85,1.6),ry:Math.max(sourceSizes[i],2),fill:'#fff',stroke:sourceColors[i],'stroke-width':1.1});
    
    
  });
  targetLabels.forEach(function(n,i){
    const t=label(g,1594,ry(i),n,7.6,'#222','start');
    
    
    const c=mk(g,'ellipse',{cx:1587,cy:ry(i),rx:targetSizes[i],ry:targetSizes[i],fill:targetColors[i]});
    
    
  });
})();
</script>
</body>
</html>
